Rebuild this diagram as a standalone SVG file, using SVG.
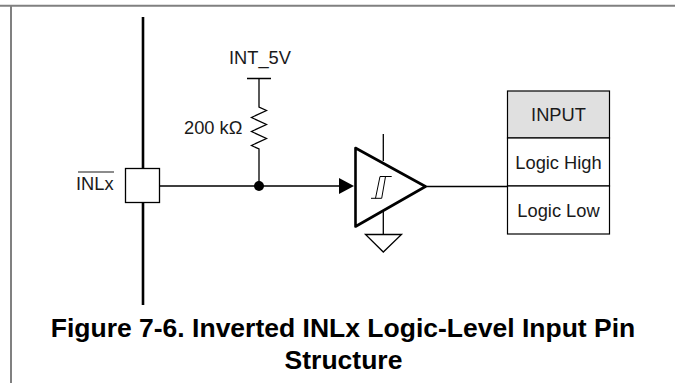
<svg xmlns="http://www.w3.org/2000/svg" width="675" height="383" viewBox="0 0 675 383">
<style>
text{font-family:"Liberation Sans",Arial,sans-serif;fill:#1a1a1a;font-size:18.3px}
.w{fill:none;stroke:#000;stroke-width:1.3}
.t{font-weight:bold;font-size:26.500px;fill:#000;text-anchor:middle}
.c{text-anchor:middle}
</style>
<rect width="675" height="383" fill="#fff"/>
<g id="frame" fill="none" stroke="#808080" stroke-width="2"><path d="M0 5.700H675M11 5.700V383"/></g>
<g id="connectors">
<path d="M143 17V305" fill="none" stroke="#000" stroke-width="2.600"/>
<path class="w" d="M159 186H340M426 186.500H507M259 186V149l-7.500-3.500 15-7-15-7 15-7-15-7 15-7-7.500-3.500V78.500M247 78.500H271M383.300 134V161M383.300 211V234"/>
</g>
<g id="inlx"><rect x="125.500" y="168.500" width="34" height="34" fill="#fff" stroke="#000" stroke-width="1.300"/>
<text x="76" y="189.500">INLx</text><path d="M78 172H114" stroke="#1a1a1a" stroke-width="1.200"/></g>
<g id="int5v"><text x="260" y="63.500" class="c">INT_5V</text></g>
<g id="resistor"><text x="184" y="134">200 kΩ</text></g>
<g id="junction"><circle cx="259" cy="186" r="5" fill="#000"/></g>
<g id="arrow"><path d="M339 178L354 186L339 194Z" fill="#000"/></g>
<g id="buffer"><path d="M355.500 148L425.500 186.500L355.500 226.500Z" fill="#fff" stroke="#000" stroke-width="2.600" stroke-linejoin="round"/>
<path d="M371 198.300H381.700L385.500 176.500M375.500 198.300L380 176.500H391.700" fill="none" stroke="#000" stroke-width="1"/></g>
<g id="ground"><path d="M365.500 234.500H401.500L383.300 252Z" fill="#fff" stroke="#000" stroke-width="1.300"/></g>
<g id="table">
<rect x="507.500" y="91" width="102" height="47" fill="#e0e0e0" stroke="#000" stroke-width="1.200"/>
<rect x="507.500" y="138" width="102" height="48" fill="#fff" stroke="#000" stroke-width="1.200"/>
<rect x="507.500" y="186" width="102" height="48" fill="#fff" stroke="#000" stroke-width="1.200"/>
<text x="558.500" y="121" class="c">INPUT</text>
<text x="558.500" y="169" class="c">Logic High</text>
<text x="558.500" y="217" class="c">Logic Low</text>
</g>
<g id="caption"><text x="343" y="337" class="t">Figure 7-6. Inverted INLx Logic-Level Input Pin</text>
<text x="343.500" y="369" class="t">Structure</text></g>
</svg>
